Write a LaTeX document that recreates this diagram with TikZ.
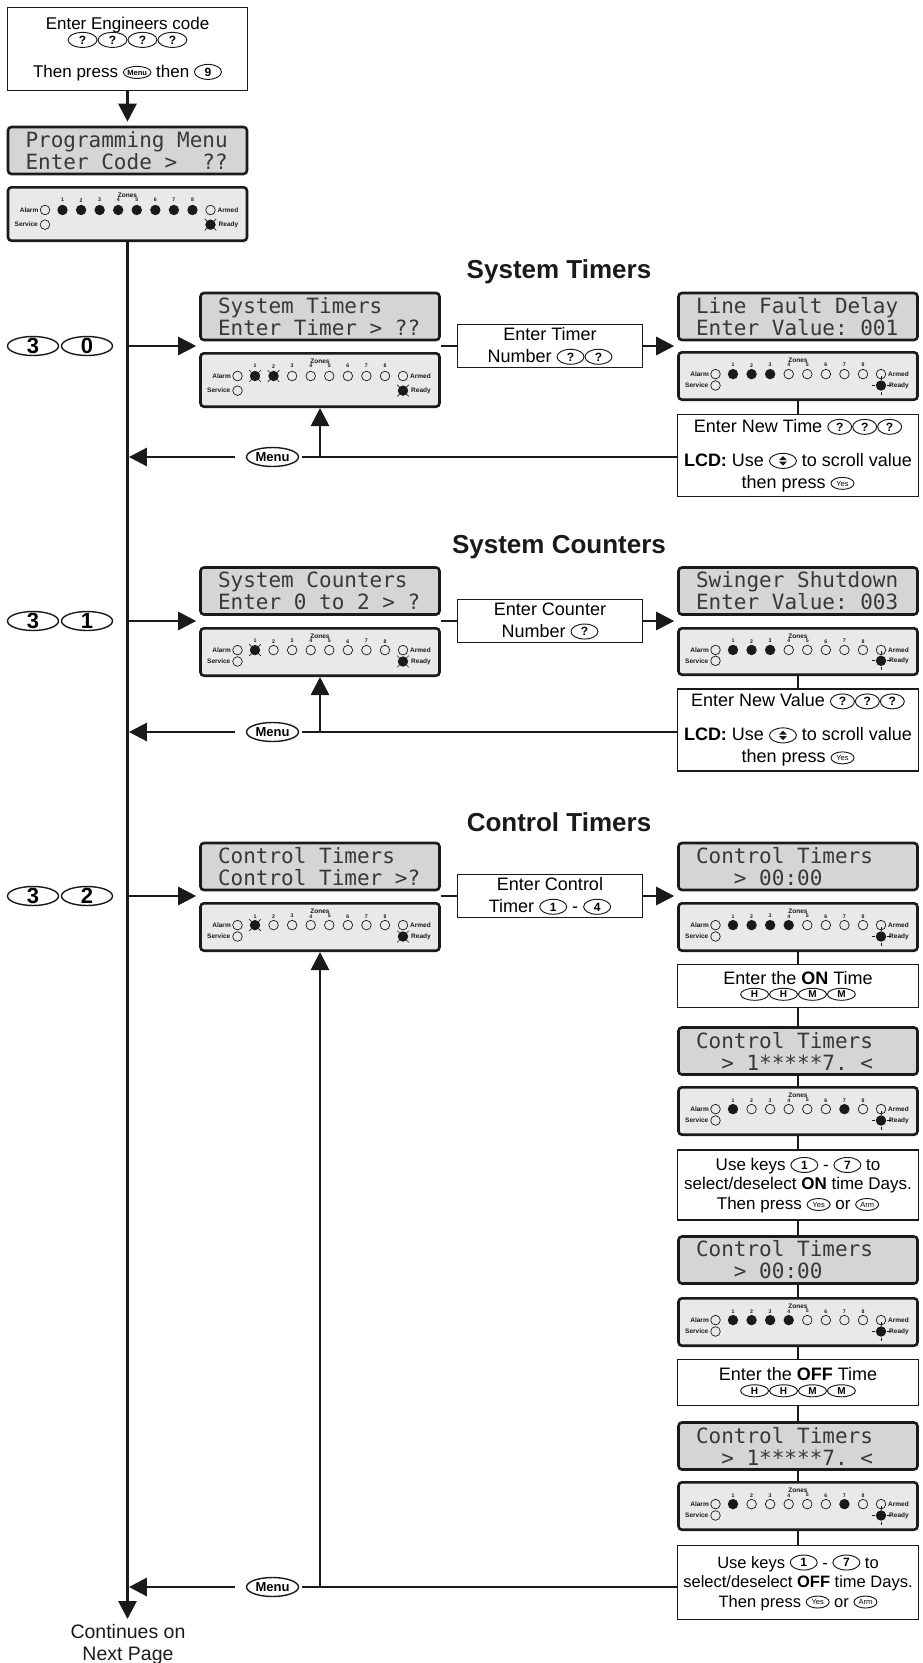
\documentclass[tikz,border=0pt]{standalone}
\usepackage{fontspec}
\setmainfont{Liberation Sans}
\newfontfamily\lcdfamily{DejaVu Sans Mono}
\usetikzlibrary{shapes.geometric,arrows.meta}
\definecolor{lcdgray}{HTML}{D5D5D5}
\definecolor{ledgray}{HTML}{E9E9E9}
\definecolor{lcdtext}{HTML}{383838}
\definecolor{edge}{HTML}{1A1A1A}

\newcommand{\lcdsetup}{\lcdfamily\frenchspacing\fontsize{21}{22}\selectfont\spaceskip=0.602em\relax\xspaceskip=0.602em\relax}
\tikzset{
  keyshape/.style={ellipse, draw=edge, line width=0.95pt, minimum width=#1, minimum height=15pt, inner xsep=0pt, inner ysep=-2pt, text height=8.5pt, text depth=0pt, font=\bfseries\fontsize{12}{12}\selectfont},
  keyshape/.default=27pt,
  flatkey/.style={keyshape=#1, minimum height=12pt, text height=7pt, font=\bfseries\fontsize{10}{10}\selectfont},
  flatkey/.default=28pt,
  smallkey/.style={keyshape=#1, minimum height=12pt, font=\fontsize{7.5}{7.5}\selectfont, text height=5.4pt},
  smallkey/.default=23pt,
  lcd/.style={rectangle, rounded corners=3.5pt, draw=edge, line width=2.6pt, fill=lcdgray, minimum width=239pt, minimum height=47pt, text width=204pt, inner xsep=17.5pt, inner ysep=0pt, align=left, text=lcdtext, font=\lcdsetup, execute at begin node={\spaceskip=0.602em\relax}},
  ledbox/.style={rectangle, rounded corners=3.5pt, draw=edge, line width=2.6pt, fill=ledgray, minimum width=239pt, inner sep=0pt},
  txtbox/.style={rectangle, draw=edge, line width=1.2pt, fill=white, inner sep=0pt, align=center, font=\fontsize{18}{22}\selectfont},
  conn/.style={draw=edge, line width=2.8pt},
  arr/.style={conn, -{Triangle[length=18pt,width=18pt]}},
  bigkey/.style={ellipse, draw=edge, line width=1.4pt, minimum width=51pt, minimum height=19pt, inner xsep=0pt, inner ysep=-3pt, text height=14pt, text depth=0pt, font=\bfseries\fontsize{22}{22}\selectfont},
  menukey/.style={ellipse, draw=edge, line width=1.4pt, minimum width=52pt, minimum height=19pt, inner xsep=0pt, inner ysep=-2pt, text height=9pt, text depth=0pt, font=\bfseries\fontsize{13}{13}\selectfont},
  sectitle/.style={font=\bfseries\fontsize{26}{26}\selectfont, inner sep=0pt, text=edge},
  ledlbl/.style={font=\bfseries\fontsize{6.5}{7}\selectfont, inner sep=0pt, text=edge},
  lednum/.style={font=\bfseries\fontsize{5.2}{5.2}\selectfont, inner sep=0pt, text=edge},
  ledoff/.style={draw=edge, line width=0.7pt},
}
\newcommand{\kb}[2][27pt]{\tikz[baseline={([yshift=-5.5pt]k.center)}]\node[keyshape=#1](k){#2};}
\newcommand{\kf}[1]{\tikz[baseline={([yshift=-5pt]k.center)}]\node[flatkey](k){#1};}
\newcommand{\kbs}[2][23pt]{\tikz[baseline={([yshift=-5pt]k.center)}]\node[smallkey=#1](k){#2};}
\newcommand{\kscroll}{\tikz[baseline={([yshift=-5.5pt]k.center)}]{\node[keyshape=27pt](k){};
  \fill[edge] ([yshift=0.8pt]k.center) ++(-3.8pt,0pt) -- ++(7.6pt,0pt) -- ++(-3.8pt,4pt) -- cycle;
  \fill[edge] ([yshift=-0.8pt]k.center) ++(-3.8pt,0pt) -- ++(7.6pt,0pt) -- ++(-3.8pt,-4pt) -- cycle;}}

\newcommand{\ledflash}[2]{\fill[edge] (#1,#2) circle[radius=5.2pt];
  \foreach \a in {45,135,225,315}{\draw[edge, line width=0.6pt] (#1,#2) ++(\a:5.2pt) -- ++(\a:3pt);}}
\newcommand{\ledsun}[2]{\fill[edge] (#1,#2) circle[radius=5.2pt];
  \foreach \a in {0,90,180,270}{\draw[edge, line width=0.7pt] (#1,#2) ++(\a:6pt) -- ++(\a:3.5pt);}}

% #1 name, #2 centre x, #3 top y, #4 height, #5 zone states, #6 ready state
\newcommand{\ledpanel}[6]{%
  \node[ledbox, minimum height={#4-2.6}] (#1) at (#2,{#3+#4/2}) {};
  \begin{scope}[shift={({#2-121},#3)}]
    \pgfmathsetmacro\ry{24-(56-#4)*0.15}
    \pgfmathsetmacro\sy{#4*0.69}
    \node[ledlbl] (#1-zn) at (121,9.5) {Zones};
    \node[ledlbl, anchor=east] (#1-al) at (32,\ry) {Alarm};
    \draw[ledoff] (38.5,\ry) circle[radius=4.8pt];
    \node[ledlbl, anchor=west] (#1-ar) at (211,\ry) {Armed};
    \draw[ledoff] (204,\ry) circle[radius=4.8pt];
    \node[ledlbl, anchor=east] (#1-sv) at (31.5,\sy) {Service};
    \draw[ledoff] (38.5,\sy) circle[radius=4.8pt];
    \node[ledlbl, anchor=west] (#1-rd) at (212,\sy) {Ready};
    \ifcase#6\relax\or\or\ledflash{204}{\sy}\or\ledsun{204}{\sy}\fi
    \foreach \s [count=\i] in {#5}{%
      \pgfmathsetmacro\zx{56+(\i-1)*18.57}
      \node[lednum] (#1-n\i) at (\zx,14.2) {\i};
      \ifcase\s\relax
        \draw[ledoff] (\zx,\ry) circle[radius=4.8pt];
      \or
        \fill[edge] (\zx,\ry) circle[radius=5.2pt];
      \or
        \ledflash{\zx}{\ry}
      \fi}
  \end{scope}}

\begin{document}
\begin{tikzpicture}[x=1pt,y=-1pt]
\useasboundingbox (0,0) rectangle (922,1663);
\fill[white] (0,0) rectangle (922,1663);

% ---- start
\node[txtbox, minimum width=240, minimum height=83, font=\fontsize{17}{19}\selectfont] (start) at (127.5,49)
  {Enter Engineers code\\[-3pt]\kb[29pt]{?}\kb[29pt]{?}\kb[29pt]{?}\kb[29pt]{?}\\[13pt]Then press \kbs[27pt]{\textbf{Menu}} then \kb[27pt]{9}};
\node[lcd] (lcd0) at (127.5,150.5) {Programming Menu\\Enter Code >~~??};
\ledpanel{p0}{127.5}{186}{56}{1,1,1,1,1,1,1,1}{2}
\coordinate (mainend) at (127.5,1619);
\draw[arr, shorten >=4pt] (start.south) -- (lcd0.north);
\draw[arr] (p0.south) -- (mainend);
\node[font=\fontsize{19.5}{22}\selectfont, align=center, inner sep=0pt, anchor=north, text=edge] (cont) at (128,1624) {Continues on\\Next Page};

% ---- section 1 : system timers
\node[sectitle] (t1) at (559,272) {System Timers};
\node[bigkey] (k1a) at (33,346) {3};
\node[bigkey] (k1b) at (87,346) {0};
\node[lcd] (lcd1l) at (320,316.5) {System Timers\\Enter Timer > ??};
\ledpanel{p1l}{320}{352}{56}{2,2,0,0,0,0,0,0}{2}
\node[txtbox, minimum width=185, minimum height=43] (b1) at (550,346) {Enter Timer\\Number \kb{?}\kb{?}};
\node[lcd] (lcd1r) at (798,316.5) {Line Fault Delay\\Enter Value: 001};
\ledpanel{p1r}{798}{351}{50}{1,1,1,0,0,0,0,0}{3}
\node[txtbox, minimum width=241, minimum height=82] (b1r) at (798,455.5)
  {Enter New Time \kb[24pt]{?}\kb[24pt]{?}\kb[24pt]{?}\\[12pt]\textbf{LCD:} Use \kscroll{} to scroll value\\then press \kbs{Yes}};
\node[menukey] (m1) at (272.5,457) {Menu};
\coordinate (j1) at (127.5,346);
\draw[arr, shorten >=3pt] (j1) -- (j1 -| lcd1l.west);
\draw[conn] (lcd1l.east |- j1) -- (b1.west);
\draw[arr, shorten >=3pt] (b1.east) -- (b1.east -| lcd1r.west);
\draw[conn] (p1r.south) -- (b1r.north);
\draw[conn, shorten >=3pt] (b1r.west |- m1) -- (m1.east);
\draw[arr, shorten <=11pt, shorten >=1.4pt] (m1.west) -- (m1 -| j1);
\draw[arr] (m1 -| p1l.south) -- (p1l.south);

% ---- section 2 : system counters
\node[sectitle] (t2) at (559,547) {System Counters};
\node[bigkey] (k2a) at (33,621) {3};
\node[bigkey] (k2b) at (87,621) {1};
\node[lcd] (lcd2l) at (320,591) {System Counters\\Enter 0 to 2 > ?};
\ledpanel{p2l}{320}{627}{50}{2,0,0,0,0,0,0,0}{2}
\node[txtbox, minimum width=185, minimum height=43] (b2) at (550,621) {Enter Counter\\Number \kb{?}};
\node[lcd] (lcd2r) at (798,591) {Swinger Shutdown\\Enter Value: 003};
\ledpanel{p2r}{798}{627}{49}{1,1,1,0,0,0,0,0}{3}
\node[txtbox, minimum width=241, minimum height=82] (b2r) at (798,730)
  {Enter New Value \kb[24pt]{?}\kb[24pt]{?}\kb[24pt]{?}\\[12pt]\textbf{LCD:} Use \kscroll{} to scroll value\\then press \kbs{Yes}};
\node[menukey] (m2) at (272.5,732) {Menu};
\coordinate (j2) at (127.5,621);
\draw[arr, shorten >=3pt] (j2) -- (j2 -| lcd2l.west);
\draw[conn] (lcd2l.east |- j2) -- (b2.west);
\draw[arr, shorten >=3pt] (b2.east) -- (b2.east -| lcd2r.west);
\draw[conn] (p2r.south) -- (b2r.north);
\draw[conn, shorten >=3pt] (b2r.west |- m2) -- (m2.east);
\draw[arr, shorten <=11pt, shorten >=1.4pt] (m2.west) -- (m2 -| j2);
\draw[arr] (m2 -| p2l.south) -- (p2l.south);

% ---- section 3 : control timers
\node[sectitle] (t3) at (559,822) {Control Timers};
\node[bigkey] (k3a) at (33,896) {3};
\node[bigkey] (k3b) at (87,896) {2};
\node[lcd] (lcd3l) at (320,866.5) {Control Timers\\Control Timer >?};
\ledpanel{p3l}{320}{902}{50}{2,0,0,0,0,0,0,0}{2}
\node[txtbox, minimum width=185, minimum height=43] (b3) at (550,896) {Enter Control\\Timer \kb{1} - \kb{4}};
\node[lcd] (lcd3a) at (798,866.5) {Control Timers\\\hphantom{000}> 00:00};
\ledpanel{p3a}{798}{902}{50}{1,1,1,1,0,0,0,0}{3}
\node[txtbox, minimum width=241, minimum height=43, font=\fontsize{18}{18}\selectfont] (bon) at (798,986)
  {Enter the \textbf{ON} Time\\[-3pt]\kf{H}\kf{H}\kf{M}\kf{M}};
\node[lcd] (lcd3b) at (798,1051) {Control Timers\\\hphantom{00}> 1*****7. <};
\ledpanel{p3b}{798}{1086}{50}{1,0,0,0,0,0,1,0}{3}
\node[txtbox, minimum width=241, minimum height=70, font=\fontsize{17}{19.5}\selectfont] (bkon) at (798,1185)
  {Use keys \kb{1} - \kb{7} to\\select/deselect \textbf{ON} time Days.\\Then press \kbs{Yes} or \kbs{Arm}};
\node[lcd] (lcd3c) at (798,1260) {Control Timers\\\hphantom{000}> 00:00};
\ledpanel{p3c}{798}{1297}{50}{1,1,1,1,0,0,0,0}{3}
\node[txtbox, minimum width=241, minimum height=46, font=\fontsize{18}{18}\selectfont] (boff) at (798,1382.5)
  {Enter the \textbf{OFF} Time\\[-3pt]\kf{H}\kf{H}\kf{M}\kf{M}};
\node[lcd] (lcd3d) at (798,1446) {Control Timers\\\hphantom{00}> 1*****7. <};
\ledpanel{p3d}{798}{1481}{50}{1,0,0,0,0,0,1,0}{3}
\node[txtbox, minimum width=241, minimum height=74, font=\fontsize{16.5}{19.5}\selectfont] (bkoff) at (798,1582.5)
  {Use keys \kb{1} - \kb{7} to\\select/deselect \textbf{OFF} time Days.\\Then press \kbs{Yes} or \kbs{Arm}};
\node[menukey] (m3) at (272.5,1587) {Menu};
\coordinate (j3) at (127.5,896);
\draw[arr, shorten >=3pt] (j3) -- (j3 -| lcd3l.west);
\draw[conn] (lcd3l.east |- j3) -- (b3.west);
\draw[arr, shorten >=3pt] (b3.east) -- (b3.east -| lcd3a.west);
\draw[conn] (p3a.south) -- (bon.north);
\draw[conn] (bon.south) -- (lcd3b.north);
\draw[conn] (lcd3b.south) -- (p3b.north);
\draw[conn] (p3b.south) -- (bkon.north);
\draw[conn] (bkon.south) -- (lcd3c.north);
\draw[conn] (lcd3c.south) -- (p3c.north);
\draw[conn] (p3c.south) -- (boff.north);
\draw[conn] (boff.south) -- (lcd3d.north);
\draw[conn] (lcd3d.south) -- (p3d.north);
\draw[conn] (p3d.south) -- (bkoff.north);
\draw[conn, shorten >=3pt] (bkoff.west |- m3) -- (m3.east);
\draw[arr, shorten <=11pt, shorten >=1.4pt] (m3.west) -- (m3 -| j3);
\draw[arr] (m3 -| p3l.south) -- (p3l.south);
\end{tikzpicture}
\end{document}
